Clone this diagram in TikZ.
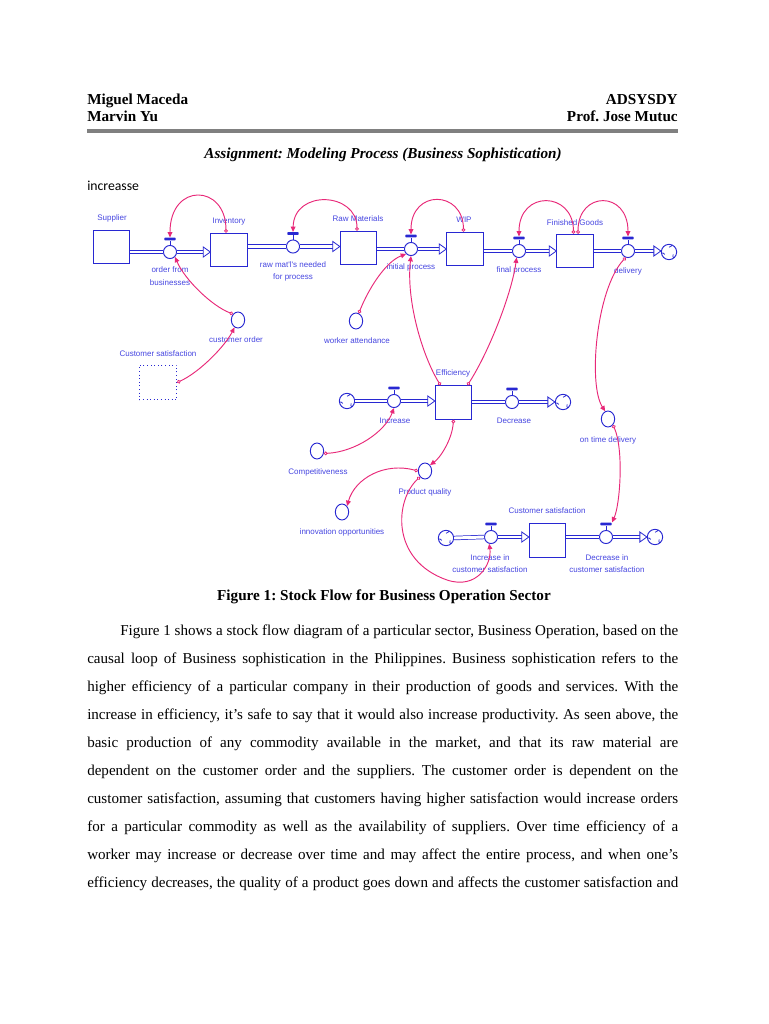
\documentclass[tikz,border=0pt]{standalone}
\usepackage{fontspec}
\setmainfont{Liberation Serif}
\newfontfamily\vsans{Liberation Sans}
\newfontfamily\calfont{Carlito}
\usetikzlibrary{arrows.meta,shapes.geometric,calc}
\definecolor{vblue}{RGB}{40,40,210}
\definecolor{tblue}{RGB}{70,70,225}
\definecolor{lpink}{RGB}{232,40,120}
\newcommand{\jline}[1]{\makebox[443.25pt][s]{#1}}
\frenchspacing
\begin{document}
\begin{tikzpicture}[x=0.75pt,y=-0.75pt,
  stock/.style={draw=vblue, line width=0.8pt, minimum width=27.2pt, minimum height=25pt, inner sep=0},
  shadowstock/.style={draw=vblue, dotted, line width=0.7pt, minimum width=28pt, minimum height=26pt, inner sep=0},
  valve/.style={circle, draw=vblue, line width=0.7pt, minimum size=9.8pt, inner sep=0, fill=white},
  vhandle/.style={rectangle, rounded corners=0.6pt, fill=vblue, minimum width=8.6pt, minimum height=2pt, inner sep=0},
  aux/.style={ellipse, draw=vblue, line width=0.7pt, minimum width=10pt, minimum height=12pt, inner sep=0},
  srcsink/.style={circle, draw=vblue, line width=0.7pt, minimum size=11.5pt, inner sep=0, fill=white,
    path picture={\foreach \a in {90,210,330}{\draw[vblue,line width=0.55pt] ([shift={(\a:3.6pt)}]path picture bounding box.center) arc[start angle=\a+180, end angle=\a+300, radius=2.2pt];}}},
  pipe/.style={draw=vblue, double=white, double distance=2.2pt, line width=0.55pt},
  stem/.style={draw=vblue, line width=0.7pt},
  lbl/.style={text=tblue, font=\vsans\fontsize{6}{9.5}\selectfont, align=center, inner sep=0},
  link/.style={draw=lpink, line width=0.7pt, arrows={Circle[open,length=2.8pt,line width=0.6pt]-Triangle[length=4pt,width=3.6pt]}},
  hdr/.style={inner sep=0, font=\bfseries\fontsize{11.4}{13}\selectfont},
  body/.style={anchor=base west, inner sep=0, font=\fontsize{11.3}{13}\selectfont},
  hrule/.style={draw=black!50, line width=2.4pt},
  pics/pipehead/.style={code={\draw[vblue, line width=0.6pt, fill=white, line join=miter] (0,0) -- (-7,-5) -- (-7,5) -- cycle;}}
]
\fill[white] (0,0) rectangle (768,1024);
\useasboundingbox (0,0) rectangle (768,1024);

% ---------- header ----------
\node[hdr, anchor=base west] (h1) at (87,104) {Miguel Maceda};
\node[hdr, anchor=base west] (h2) at (87,122) {Marvin Yu};
\node[hdr, anchor=base east] (h3) at (678,104) {ADSYSDY};
\node[hdr, anchor=base east] (h4) at (678,122) {Prof. Jose Mutuc};
\draw[hrule] (87,131) -- (678,131);
\node[hdr, anchor=base, font=\bfseries\itshape\fontsize{11.4}{13}\selectfont] (title) at (383,158) {Assignment: Modeling Process (Business Sophistication)};
\node[anchor=base west, inner sep=0, font=\calfont\fontsize{10.3}{12}\selectfont] (incr) at (87,190) {increasse};

% ---------- top row ----------
\node[stock] (supplier) at (111.5,247) {};
\node[valve] (v1) at (170,252) {};
\node[stock] (inventory) at (229,250) {};
\node[valve] (v2) at (293,246.5) {};
\node[stock] (rawmat) at (358.5,248) {};
\node[valve] (v3) at (411,249) {};
\node[stock] (wip) at (465,249) {};
\node[valve] (v4) at (519,251) {};
\node[stock] (fgoods) at (575,251) {};
\node[valve] (v5) at (628,251) {};
\node[srcsink] (c1) at (669,252) {};

% ---------- efficiency row ----------
\node[srcsink] (c2) at (347,401) {};
\node[valve] (v6) at (394,401) {};
\node[stock] (eff) at (453.5,402.5) {};
\node[valve] (v7) at (512,402) {};
\node[srcsink] (c3) at (563,402) {};

% ---------- customer satisfaction row ----------
\node[srcsink] (c4) at (446,538) {};
\node[valve] (v8) at (491,537) {};
\node[stock] (custsat) at (547.5,540.5) {};
\node[valve] (v9) at (606,537) {};
\node[srcsink] (c5) at (655,537) {};

% ---------- auxiliaries ----------
\node[aux] (custorder) at (238,320) {};
\node[aux] (workeratt) at (356,321) {};
\node[aux] (ontime) at (608,419) {};
\node[aux] (compet) at (317,451) {};
\node[aux] (pquality) at (425,471) {};
\node[aux] (innov) at (342,512) {};
\node[shadowstock] (csshadow) at (158,382.5) {};

% ---------- valve handles ----------
\foreach \v in {v1,v2,v3,v4,v5,v6,v7,v8,v9}{
  \node[vhandle] (\v h) at ($(\v.north)+(0,-6)$) {};
  \draw[stem] (\v.north) -- (\v h.south);
}

% ---------- pipes ----------
\draw[pipe] (supplier.east |- v1.center) -- (v1.west);
\draw[pipe] (v1.east) -- ($(inventory.west |- v1.center)+(-7,0)$);
\pic at (inventory.west |- v1.center) {pipehead};
\draw[pipe] (inventory.east |- v2.center) -- (v2.west);
\draw[pipe] (v2.east) -- ($(rawmat.west |- v2.center)+(-7,0)$);
\pic at (rawmat.west |- v2.center) {pipehead};
\draw[pipe] (rawmat.east |- v3.center) -- (v3.west);
\draw[pipe] (v3.east) -- ($(wip.west |- v3.center)+(-7,0)$);
\pic at (wip.west |- v3.center) {pipehead};
\draw[pipe] (wip.east |- v4.center) -- (v4.west);
\draw[pipe] (v4.east) -- ($(fgoods.west |- v4.center)+(-7,0)$);
\pic at (fgoods.west |- v4.center) {pipehead};
\draw[pipe] (fgoods.east |- v5.center) -- (v5.west);
\draw[pipe] (v5.east) -- ($(c1.west |- v5.center)+(-7,0)$);
\pic at (c1.west |- v5.center) {pipehead};

\draw[pipe] (c2.east) -- (v6.west);
\draw[pipe] (v6.east) -- ($(eff.west |- v6.center)+(-7,0)$);
\pic at (eff.west |- v6.center) {pipehead};
\draw[pipe] (eff.east |- v7.center) -- (v7.west);
\draw[pipe] (v7.east) -- ($(c3.west |- v7.center)+(-7,0)$);
\pic at (c3.west |- v7.center) {pipehead};

\draw[pipe] (c4.east) -- (v8.west);
\draw[pipe] (v8.east) -- ($(custsat.west |- v8.center)+(-7,0)$);
\pic at (custsat.west |- v8.center) {pipehead};
\draw[pipe] (custsat.east |- v9.center) -- (v9.west);
\draw[pipe] (v9.east) -- ($(c5.west |- v9.center)+(-7,0)$);
\pic at (c5.west |- v9.center) {pipehead};

% ---------- labels ----------
\node[lbl] (l-supplier) at (112,218) {Supplier};
\node[lbl] (l-inventory) at (229,222) {Inventory};
\node[lbl] (l-rawmat) at (358,219) {Raw Materials};
\node[lbl] (l-wip) at (464,220) {WIP};
\node[lbl] (l-fgoods) at (575,223) {Finished Goods};
\node[lbl] (l-v1) at (170,276) {order from\\businesses};
\node[lbl] (l-v2) at (293,271.5) {raw mat'l's needed\\for process};
\node[lbl] (l-v3) at (411,267) {initial process};
\node[lbl] (l-v4) at (519,270) {final process};
\node[lbl] (l-v5) at (628,271) {delivery};
\node[lbl] (l-custorder) at (236,340) {customer order};
\node[lbl] (l-workeratt) at (357,341) {worker attendance};
\node[lbl] (l-csshadow) at (158,354) {Customer satisfaction};
\node[lbl] (l-eff) at (453,373) {Efficiency};
\node[lbl] (l-v6) at (395,421) {Increase};
\node[lbl] (l-v7) at (514,421) {Decrease};
\node[lbl] (l-ontime) at (608,440) {on time delivery};
\node[lbl] (l-compet) at (318,472) {Competitiveness};
\node[lbl] (l-pquality) at (425,492) {Product quality};
\node[lbl] (l-innov) at (342,532) {innovation opportunities};
\node[lbl] (l-custsat) at (547,511) {Customer satisfaction};
\node[lbl] (l-v8) at (490,563.5) {Increase in\\customer satisfaction};
\node[lbl] (l-v9) at (607,563.5) {Decrease in\\customer satisfaction};

% ---------- links ----------
\draw[link] (inventory.100) .. controls (226,184) and (170,182) .. (v1h.north);
\draw[link] (rawmat.95) .. controls (357,192) and (294,189) .. (v2h.north);
\draw[link] (wip.95) .. controls (463,190) and (411,189) .. (v3h.north);
\draw[link] (fgoods.95) .. controls (573,191) and (519,190) .. (v4h.north);
\draw[link] (fgoods.80) .. controls (578,191) and (628,190) .. (v5h.north);
\draw[link] (custorder.north west) .. controls (212,306) and (185,280) .. (v1.south east);
\draw[link] (csshadow.east) .. controls (200,372) and (225,346) .. (custorder.245);
\draw[link] (workeratt.70) .. controls (368,290) and (385,262) .. (v3.south west);
\draw[link] (eff.127) .. controls (422,355) and (406,300) .. (v3.south);
\draw[link] (eff.51) .. controls (490,350) and (512,292) .. (v4.250);
\draw[link] (v5.250) .. controls (596,290) and (588,385) .. (ontime.110);
\draw[link] (ontime.south east) .. controls (624,450) and (620,505) .. (v9h.north east);
\draw[link] (eff.south) .. controls (452,440) and (440,458) .. (pquality.north east);
\draw[link] (compet.340) .. controls (355,452) and (385,432) .. (v6.south);
\draw[link] (pquality.west) .. controls (385,462) and (355,478) .. (innov.north east);
\coordinate (pqloop) at (447,580);
\draw[link] (pquality.south west) .. controls (395,500) and (390,560) .. (pqloop) .. controls (477,590) and (492,564) .. (v8.255);

% ---------- caption and body ----------
\node[hdr, anchor=base] (caption) at (384,600) {Figure 1: Stock Flow for Business Operation Sector};
\node[body] (p1) at (120,635) {\makebox[418.5pt][s]{Figure 1 shows a stock flow diagram of a particular sector, Business Operation, based on the}};
\node[body] (p2) at (87,663) {\jline{causal loop of Business sophistication in the Philippines. Business sophistication refers to the}};
\node[body] (p3) at (87,691) {\jline{higher efficiency of a particular company in their production of goods and services. With the}};
\node[body] (p4) at (87,719) {\jline{increase in efficiency, it’s safe to say that it would also increase productivity. As seen above, the}};
\node[body] (p5) at (87,747) {\jline{basic production of any commodity available in the market, and that its raw material are}};
\node[body] (p6) at (87,775) {\jline{dependent on the customer order and the suppliers. The customer order is dependent on the}};
\node[body] (p7) at (87,803) {\jline{customer satisfaction, assuming that customers having higher satisfaction would increase orders}};
\node[body] (p8) at (87,831) {\jline{for a particular commodity as well as the availability of suppliers. Over time efficiency of a}};
\node[body] (p9) at (87,859) {\jline{worker may increase or decrease over time and may affect the entire process, and when one’s}};
\node[body] (p10) at (87,887) {\jline{efficiency decreases, the quality of a product goes down and affects the customer satisfaction and}};
\end{tikzpicture}
\end{document}
